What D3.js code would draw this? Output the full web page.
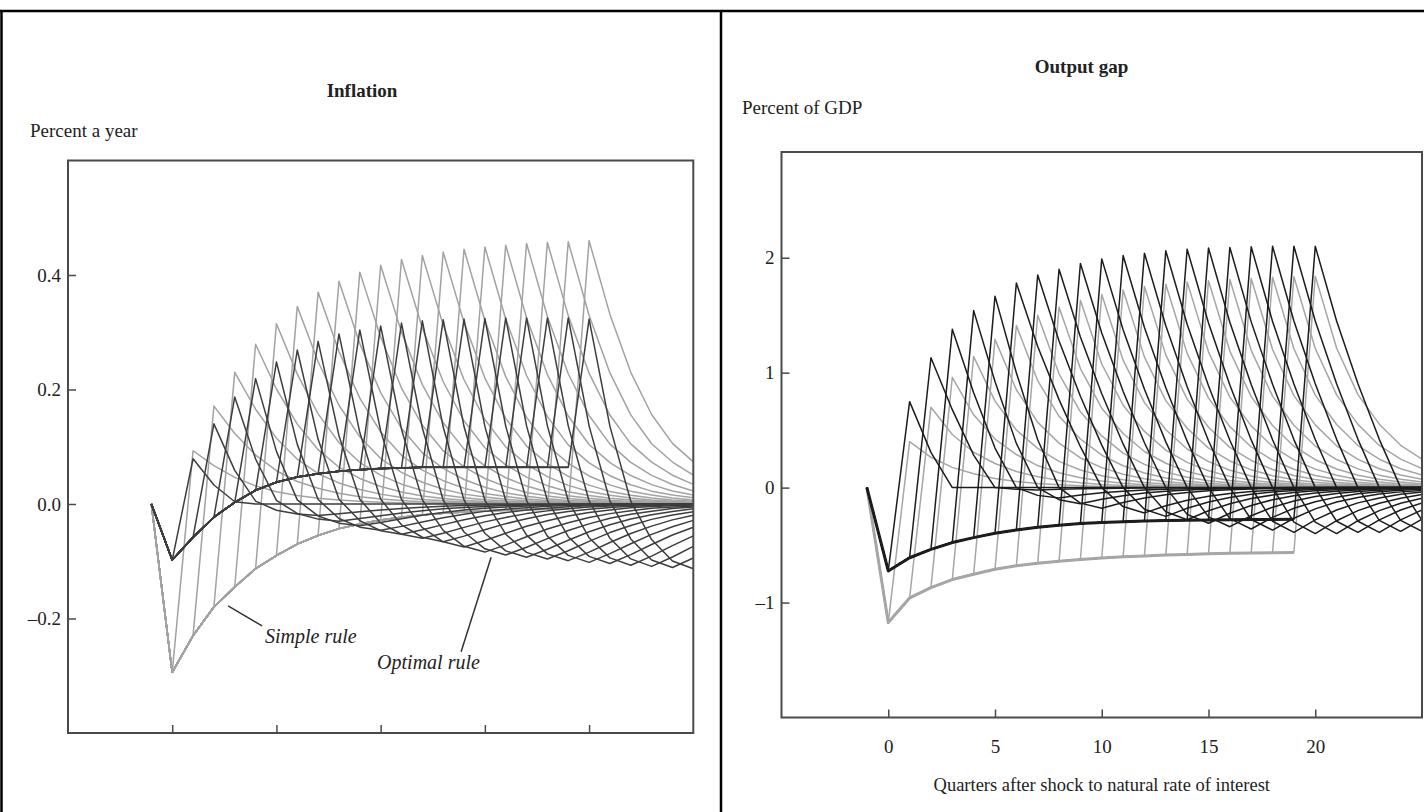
<!DOCTYPE html>
<html>
<head>
<meta charset="utf-8">
<script src="https://cdn.jsdelivr.net/npm/d3@7"></script>
<style>
  body { margin: 0; background: #fff; }
  text { font-family: "Liberation Serif", "Times New Roman", serif; fill: #222; }
</style>
</head>
<body>
<svg id="chart" width="1424" height="812"></svg>
<script>
// ---- data ---------------------------------------------------------------
// x axis: quarters after the shock; shock of length k ends after quarter k
var xTicks = [0, 5, 10, 15, 20];
var inflTicks = [-0.2, 0.0, 0.2, 0.4];
var gapTicks = [-1, 0, 1, 2];

// Inflation, simple rule: value while the shock lasts (quarters 0..19)
var inflSimpleEnv = [-0.294, -0.23, -0.18, -0.145, -0.113, -0.09, -0.07, -0.055, -0.043, -0.035,
                     -0.028, -0.023, -0.019, -0.016, -0.014, -0.012, -0.011, -0.010, -0.009, -0.008];
// peak in the quarter after the shock ends (quarters 1..20)
var inflSimplePeak = [0.093, 0.171, 0.23, 0.279, 0.315, 0.345, 0.37, 0.389, 0.405, 0.417,
                      0.427, 0.434, 0.44, 0.445, 0.449, 0.452, 0.455, 0.457, 0.458, 0.46];
// decay after the peak, share of the peak
var inflSimpleDecay = [1, 0.72, 0.5, 0.34, 0.23, 0.16, 0.11, 0.075, 0.05, 0.035, 0.024, 0.016, 0.011, 0.007, 0.005, 0.003, 0.002, 0];

// Inflation, optimal rule
var inflOptEnv = [-0.098, -0.058, -0.023, 0.003, 0.024, 0.038, 0.047, 0.053, 0.057, 0.060,
                  0.062, 0.063, 0.064, 0.064, 0.064, 0.064, 0.064, 0.064, 0.064, 0.064];
var inflOptPeak = [0.079, 0.14, 0.187, 0.219, 0.248, 0.269, 0.284, 0.297, 0.304, 0.311,
                   0.316, 0.32, 0.322, 0.323, 0.324, 0.325, 0.325, 0.325, 0.325, 0.323];
var inflOptDrop = [[1, 0.42, 0.05]];
var inflOptDropPick = [0, 0, 0, 0, 0, 0, 0, 0, 0, 0, 0, 0, 0, 0, 0, 0, 0, 0, 0, 0];
// undershoot below zero after the peak
var inflOptTrough = [0, -0.02, -0.03, -0.038, -0.046, -0.053, -0.06, -0.066, -0.075, -0.084,
                     -0.089, -0.093, -0.096, -0.099, -0.102, -0.104, -0.107, -0.109, -0.111, -0.113];
var inflOptDip = [0.1, 0.55, 0.88, 1.0, 0.85, 0.68, 0.52, 0.39, 0.28, 0.2, 0.14, 0.09, 0.06, 0.04, 0.025, 0.015, 0.01, 0.005, 0];

// Output gap, simple rule
var gapSimpleEnv = [-1.174, -0.96, -0.87, -0.80, -0.754, -0.71, -0.68, -0.658, -0.64, -0.625,
                    -0.612, -0.602, -0.594, -0.587, -0.581, -0.576, -0.572, -0.569, -0.567, -0.565];
var gapSimplePeak = [0.40, 0.70, 0.96, 1.14, 1.29, 1.41, 1.50, 1.57, 1.63, 1.68,
                     1.72, 1.75, 1.77, 1.79, 1.80, 1.81, 1.82, 1.83, 1.835, 1.84];
var gapSimpleDecay = [1, 0.66, 0.44, 0.3, 0.2, 0.135, 0.09, 0.06, 0.04, 0.027, 0.018, 0.012, 0.008, 0.005, 0.003, 0.002, 0];

// Output gap, optimal rule
var gapOptEnv = [-0.725, -0.61, -0.537, -0.478, -0.435, -0.397, -0.368, -0.345, -0.327, -0.313,
                 -0.303, -0.296, -0.29, -0.286, -0.283, -0.281, -0.279, -0.278, -0.277, -0.276];
var gapOptPeak = [0.748, 1.13, 1.377, 1.54, 1.666, 1.78, 1.85, 1.90, 1.95, 1.99,
                  2.02, 2.04, 2.06, 2.075, 2.085, 2.09, 2.095, 2.10, 2.10, 2.10];
var gapOptDrop = [[1, 0.41, 0], [1, 0.6, 0.25, 0], [1, 0.69, 0.43, 0.2, 0]];
var gapOptDropPick = [0, 1, 1, 1, 1, 2, 2, 2, 2, 2, 2, 2, 2, 2, 2, 2, 2, 2, 2, 2];
var gapOptTrough = [0, -0.02, -0.09, -0.14, -0.18, -0.22, -0.25, -0.28, -0.31, -0.34,
                    -0.36, -0.37, -0.39, -0.40, -0.40, -0.39, -0.39, -0.38, -0.38, -0.38];
var gapOptDip = [0, 0.75, 1.0, 0.72, 0.5, 0.34, 0.23, 0.15, 0.1, 0.065, 0.04, 0.025, 0.015, 0.01, 0];

// ---- building the paths ---------------------------------------------------
function envelope(env) {
    return [{q: -1, v: 0}].concat(env.map(function (v, i) { return {q: i, v: v}; }));
}

function simplePaths(env, peak, decay) {
    return peak.map(function (p, k) {
        var pts = envelope(env.slice(0, k + 1));
        decay.forEach(function (r, j) {
            pts.push({q: k + 1 + j, v: p * r});
        });
        return pts.filter(function (d) { return d.q <= 26; });
    });
}

function optimalPaths(env, peak, drops, pick, trough, dip) {
    return peak.map(function (p, k) {
        var drop = drops[pick[k]];
        var pts = envelope(env.slice(0, k + 1));
        for (var j = 0; k + 1 + j <= 26; j++) {
            var v = j < drop.length ? p * drop[j] : 0;
            var di = j - (drop.length - 1);
            if (di >= 0 && di < dip.length) v += trough[k] * dip[di];
            pts.push({q: k + 1 + j, v: v});
        }
        return pts;
    });
}

var svg = d3.select("#chart");

// frame round the two panels
svg.append("line").attr("x1", 0).attr("x2", 1424).attr("y1", 11).attr("y2", 11)
    .style("stroke", "#000").style("stroke-width", 2.5);
svg.append("line").attr("x1", 1.5).attr("x2", 1.5).attr("y1", 11).attr("y2", 812)
    .style("stroke", "#000").style("stroke-width", 2.5);
svg.append("line").attr("x1", 721).attr("x2", 721).attr("y1", 11).attr("y2", 812)
    .style("stroke", "#000").style("stroke-width", 2.5);

function drawPanel(cfg) {
    var x = d3.scaleLinear().domain([-5, 25]).range([cfg.left, cfg.right]);
    var y = d3.scaleLinear().domain(cfg.yDomain).range([cfg.bottom, cfg.top]);
    var g = svg.append("g");

    g.append("clipPath").attr("id", cfg.id + "_clip")
        .append("rect")
        .attr("x", cfg.left).attr("y", cfg.top)
        .attr("width", cfg.right - cfg.left).attr("height", cfg.bottom - cfg.top);

    var line = d3.line()
        .x(function (d) { return x(d.q); })
        .y(function (d) { return y(d.v); });

    var plot = g.append("g").attr("clip-path", "url(#" + cfg.id + "_clip)");
    [[cfg.simple, cfg.grey, cfg.simpleEnv], [cfg.optimal, cfg.dark, cfg.optEnv]].forEach(function (set) {
        plot.append("g").selectAll("path")
            .data(set[0])
            .enter().append("path")
            .attr("d", line)
            .style("fill", "none")
            .style("stroke", set[1])
            .style("stroke-width", cfg.lineWidth)
            .style("stroke-linejoin", "round");
        // the common stretch while the shock lasts is drawn heavier
        plot.append("path")
            .datum(envelope(set[2]))
            .attr("d", line)
            .style("fill", "none")
            .style("stroke", set[1])
            .style("stroke-width", cfg.envWidth)
            .style("stroke-linejoin", "round");
    });

    // box
    g.append("rect")
        .attr("x", cfg.left).attr("y", cfg.top)
        .attr("width", cfg.right - cfg.left).attr("height", cfg.bottom - cfg.top)
        .style("fill", "none").style("stroke", "#4a4a4a").style("stroke-width", 2);

    var yaxis = d3.axisLeft(y).tickValues(cfg.yTicks).tickSize(-8).tickPadding(7)
        .tickFormat(cfg.yFormat);
    var ya = g.append("g").attr("transform", "translate(" + cfg.left + ",0)").call(yaxis);
    var xaxis = d3.axisBottom(x).tickValues(xTicks).tickSize(-8).tickPadding(22)
        .tickFormat(cfg.xLabels ? d3.format("d") : "");
    var xa = g.append("g").attr("transform", "translate(0," + cfg.bottom + ")").call(xaxis);
    [ya, xa].forEach(function (a) {
        a.select(".domain").remove();
        a.selectAll("line").style("stroke", "#4a4a4a").style("stroke-width", 1.5);
        a.selectAll("text").style("font-size", "19px").style("fill", "#222")
            .style("font-family", "'Liberation Serif', 'Times New Roman', serif");
    });

    g.append("text").attr("x", cfg.titleX).attr("y", cfg.titleY)
        .style("text-anchor", "middle").style("font-weight", "bold").style("font-size", "19px")
        .text(cfg.title);
    g.append("text").attr("x", cfg.unitX).attr("y", cfg.unitY)
        .style("font-size", "19px")
        .text(cfg.unit);

    return {g: g, x: x, y: y};
}

var infl = drawPanel({
    id: "infl", left: 68, right: 693.3, top: 160.5, bottom: 733,
    yDomain: [-0.4, 0.6], yTicks: inflTicks,
    yFormat: function (d) { return (d < 0 ? "\u2013" : "") + d3.format(".1f")(Math.abs(d)); },
    xLabels: false,
    simple: simplePaths(inflSimpleEnv, inflSimplePeak, inflSimpleDecay),
    optimal: optimalPaths(inflOptEnv, inflOptPeak, inflOptDrop, inflOptDropPick, inflOptTrough, inflOptDip),
    simpleEnv: inflSimpleEnv, optEnv: inflOptEnv,
    grey: "#a2a2a2", dark: "#3d3d3d", lineWidth: 1.5, envWidth: 1.8,
    title: "Inflation", titleX: 362, titleY: 97,
    unit: "Percent a year", unitX: 30, unitY: 137
});

var gap = drawPanel({
    id: "gap", left: 781.5, right: 1422, top: 152, bottom: 717.5,
    yDomain: [-2, 2.92], yTicks: gapTicks,
    yFormat: function (d) { return (d < 0 ? "\u2013" : "") + Math.abs(d); },
    xLabels: true,
    simple: simplePaths(gapSimpleEnv, gapSimplePeak, gapSimpleDecay),
    optimal: optimalPaths(gapOptEnv, gapOptPeak, gapOptDrop, gapOptDropPick, gapOptTrough, gapOptDip),
    simpleEnv: gapSimpleEnv, optEnv: gapOptEnv,
    grey: "#a6a6a6", dark: "#1c1c1c", lineWidth: 1.5, envWidth: 3,
    title: "Output gap", titleX: 1081.5, titleY: 73,
    unit: "Percent of GDP", unitX: 742, unitY: 114
});

gap.g.append("text")
    .attr("x", (781.5 + 1422) / 2).attr("y", 791)
    .style("text-anchor", "middle").style("font-size", "18.5px")
    .text("Quarters after shock to natural rate of interest");

// labels pointing at the two families of lines
function pointer(p, from, to, label, at) {
    p.g.append("line")
        .attr("x1", p.x(from[0])).attr("y1", p.y(from[1]))
        .attr("x2", p.x(to[0])).attr("y2", p.y(to[1]))
        .style("stroke", "#333").style("stroke-width", 1.5);
    p.g.append("text")
        .attr("x", p.x(at[0])).attr("y", p.y(at[1]))
        .style("font-style", "italic").style("font-size", "20px")
        .text(label);
}
pointer(infl, [2.68, -0.178], [4.31, -0.213], "Simple rule", [4.45, -0.243]);
pointer(infl, [15.3, -0.093], [13.86, -0.258], "Optimal rule", [9.83, -0.288]);
</script>
</body>
</html>
